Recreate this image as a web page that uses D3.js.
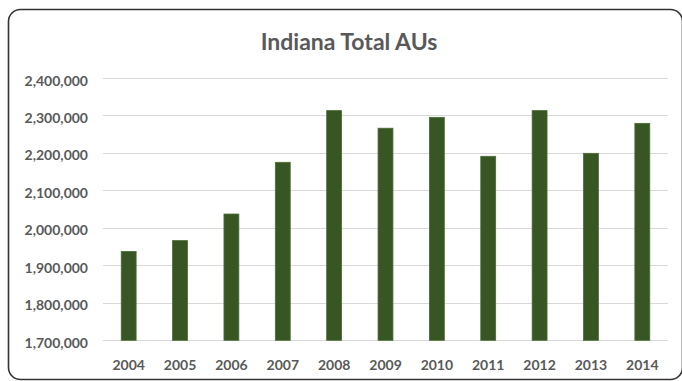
<!DOCTYPE html>
<html>
<head>
<meta charset="utf-8">
<script src="https://cdn.jsdelivr.net/npm/d3@7"></script>
<style>
  body { margin: 0; background: #fff; }
  text { font-family: Lato, "Open Sans", sans-serif; }
</style>
</head>
<body>
<svg id="chart" width="682" height="381"></svg>
<script>
// chart data
const years = ['2004', '2005', '2006', '2007', '2008', '2009', '2010', '2011', '2012', '2013', '2014'];
const totals = [1937000, 1966000, 2037000, 2175000, 2313000, 2266000, 2295000, 2191000, 2313000, 2199000, 2279000];
const yTicks = [1700000, 1800000, 1900000, 2000000, 2100000, 2200000, 2300000, 2400000];

const svg = d3.select('#chart');
const margin = { top: 78, right: 14, bottom: 40, left: 103 };
const width = 682 - margin.left - margin.right;
const height = 381 - margin.top - margin.bottom - 0.7;

// outer frame
svg.append('rect')
  .attr('x', 8.5).attr('y', 9.5)
  .attr('width', 674).attr('height', 370)
  .attr('rx', 12)
  .attr('fill', '#fff')
  .attr('stroke', '#333')
  .attr('stroke-width', 1.6);

svg.append('text')
  .attr('x', 349).attr('y', 50)
  .attr('text-anchor', 'middle')
  .attr('fill', '#595959')
  .style('font-size', '23px')
  .style('font-weight', 'bold')
  .text('Indiana Total AUs');

const g = svg.append('g').attr('transform', `translate(${margin.left},${margin.top})`);

const x = d3.scaleBand().domain(years).range([0, width]).paddingInner(0.71).paddingOuter(0.355);
const y = d3.scaleLinear().domain([1700000, 2400000]).range([height, 0]);

// gridlines
g.append('g')
  .selectAll('line')
  .data(yTicks)
  .enter()
  .append('line')
  .attr('x1', 0).attr('x2', width)
  .attr('y1', d => Math.round(y(d)) + 0.5)
  .attr('y2', d => Math.round(y(d)) + 0.5)
  .attr('stroke', '#d9d9d9')
  .attr('stroke-width', 1);

// y axis labels
const yAxis = g.append('g')
  .call(d3.axisLeft(y).tickValues(yTicks).tickFormat(d3.format(',')).tickSize(0).tickPadding(15));
yAxis.select('.domain').remove();
yAxis.selectAll('text')
  .attr('dy', '0.5em')
  .attr('fill', '#595959')
  .style('font-size', '14px')
  .style('font-weight', 'bold');

// bars
g.selectAll('.bar')
  .data(years)
  .enter()
  .append('rect')
  .attr('class', 'bar')
  .attr('x', d => x(d))
  .attr('width', x.bandwidth())
  .attr('y', (d, i) => y(totals[i]))
  .attr('height', (d, i) => height - y(totals[i]))
  .attr('fill', '#375623')
  .attr('stroke', '#4a6b34')
  .attr('stroke-width', 0.8);

// x axis labels
const xAxis = g.append('g')
  .attr('transform', `translate(0,${height})`)
  .call(d3.axisBottom(x).tickSize(0).tickPadding(20));
xAxis.select('.domain').remove();
xAxis.selectAll('text')
  .attr('fill', '#595959')
  .style('font-size', '14px')
  .style('font-weight', 'bold');
</script>
</body>
</html>
